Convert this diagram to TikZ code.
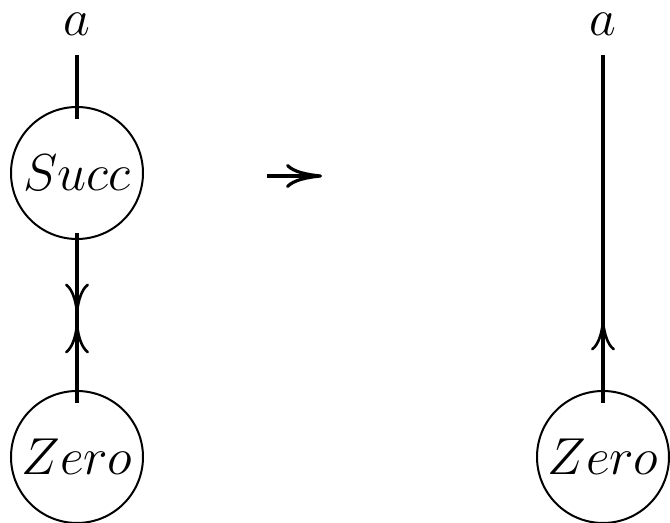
\RequirePackage{fix-cm}
\documentclass[tikz,border=0pt]{standalone}
\usepackage{tikz}
\usetikzlibrary{arrows.meta, decorations.markings}

\begin{document}
\begin{tikzpicture}[
  x=0.5pt, y=-0.5pt,
  font=\fontsize{26}{31}\selectfont,
  midtip/.tip={Computer Modern Rightarrow[length=15pt, width=12pt, line width=1.3pt]},
  term/.style={circle, draw, line width=1pt, inner sep=0pt, minimum size=66pt},
  var/.style={inner sep=0pt},
  wire/.style={line width=2pt},
  rew/.style={line width=2pt, -{Computer Modern Rightarrow[length=18pt, width=12pt, line width=1.6pt]}}
]
\useasboundingbox (0,0) rectangle (670,523);

\node[var]  (aL)    at (77,24)  {$a$};
\node[term] (succ)  at (77,173) {$Succ$};
\node[term] (zeroL) at (77,457) {$Zero$};

\node[var]  (aR)    at (603,24)  {$a$};
\node[term] (zeroR) at (603,457) {$Zero$};

\coordinate (rs) at (267,176);
\coordinate (re) at (322,176);

\draw[wire, shorten <=9.5pt, shorten >=-6.5pt] (aL) -- (succ);
\draw[wire, shorten <=-3.5pt, shorten >=-6.5pt, postaction=decorate,
  decoration={markings,
    mark=at position 0.49 with {\arrow{midtip}},
    mark=at position 0.556 with {\arrowreversed{midtip}}}]
  (succ) -- (zeroL);

\draw[wire, shorten <=-6.5pt, shorten >=9.5pt, postaction=decorate,
  decoration={markings,
    mark=at position 0.196 with {\arrow{midtip}}}]
  (zeroR) -- (aR);

\draw[rew] (rs) -- (re);
\end{tikzpicture}
\end{document}
